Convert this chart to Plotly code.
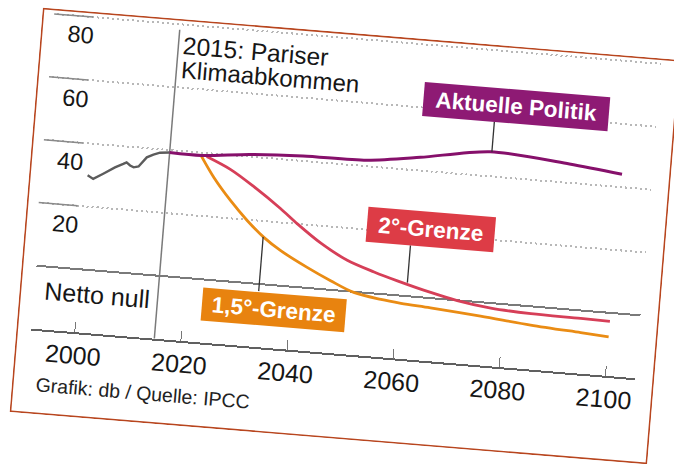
import plotly.graph_objects as go

# ---------------- data ----------------
hist_years = [2000, 2001.1, 2002.9, 2005, 2006.5, 2007.1, 2007.8, 2008.5, 2009.4, 2010, 2010.8, 2012, 2013.2, 2015]
hist_vals = [29.9, 28.9, 30.8, 33.1, 34.4, 35.0, 34.1, 33.6, 34.0, 35.4, 37.1, 38.1, 38.9, 39.2]

policy_years = [2015, 2021, 2030, 2040, 2052, 2062, 2075, 2090, 2100]
policy_vals = [39.2, 39.1, 40.7, 41.6, 41.9, 44.2, 47.8, 46.0, 44.1]

two_years = [2022, 2026.7, 2031.3, 2036.6, 2040, 2044.7, 2049.9, 2055.1, 2059.6, 2066, 2071.1, 2077.5, 2085.1, 2094.5, 2100]
two_vals = [38.9, 35.4, 30.6, 24.4, 20.0, 14.5, 9.8, 6.8, 4.6, 1.8, -0.1, -1.6, -2.3, -2.5, -2.7]

one5_years = [2021, 2023.7, 2027.2, 2030.6, 2034, 2037.3, 2042.5, 2047.1, 2051.6, 2056.8, 2060.6, 2066.2, 2075.7, 2085.2, 2094.7, 2100]
one5_vals = [38.9, 32.4, 25.5, 19.7, 14.8, 11.1, 6.5, 2.9, -0.2, -1.7, -2.4, -3.1, -4.4, -5.9, -7.0, -7.6]

x_ticks = [2000, 2020, 2040, 2060, 2080, 2100]
y_ticks = [80, 60, 40, 20]
y_tick_text = ["80", "60", "40", "20"]

paris_year = 2015
paris_text = ["2015: Pariser", "Klimaabkommen"]
zero_label = "Netto null"
source_text = "Grafik: db / Quelle: IPCC"

# ---------------- styling ----------------
FONT = "Liberation Sans, Arial, Helvetica, sans-serif"
PURPLE = "#86106b"
PURPLE_BOX = "#8e1a74"
RED = "#d63f58"
RED_BOX = "#dd3c46"
ORANGE = "#ea8c14"
ORANGE_BOX = "#e8830f"
HIST = "#5c5c5c"
TXT = "#161616"

W, H = 640, 406
ML, MR, MT, MB = 15, 19, 0, 85
PW, PH = W - ML - MR, H - MT - MB
x_range = [1991.83, 2105.63]
y_range = [-20, 81.74]


def pu(u):
    return (u - ML) / PW


def pv(v):
    return (PH - v) / PH


def yv(v):
    # value at a given pixel row inside the plot area
    return y_range[1] - v * (y_range[1] - y_range[0]) / PH


fig = go.Figure()

fig.add_trace(go.Scatter(x=hist_years, y=hist_vals, mode="lines",
                         line=dict(color=HIST, width=2.4), hoverinfo="skip"))
fig.add_trace(go.Scatter(x=one5_years, y=one5_vals, mode="lines",
                         line=dict(color=ORANGE, width=2.8, shape="spline", smoothing=0.9),
                         hoverinfo="skip"))
fig.add_trace(go.Scatter(x=two_years, y=two_vals, mode="lines",
                         line=dict(color=RED, width=2.8, shape="spline", smoothing=0.9),
                         hoverinfo="skip"))
fig.add_trace(go.Scatter(x=policy_years, y=policy_vals, mode="lines",
                         line=dict(color=PURPLE, width=3, shape="spline", smoothing=0.8),
                         hoverinfo="skip"))

shapes = []
# short solid pieces at the left of each grid line
for t in y_ticks:
    shapes.append(dict(type="line", xref="paper", yref="y", x0=pu(12), x1=pu(51), y0=t, y1=t,
                       line=dict(color="#8a8a8a", width=1.5), layer="above"))
# 2015 marker line
shapes.append(dict(type="line", xref="x", yref="y", x0=paris_year, x1=paris_year,
                   y0=y_range[0], y1=yv(11), line=dict(color="#7a7a7a", width=1.5), layer="below"))
# label connectors
shapes.append(dict(type="line", xref="x", yref="y", x0=2075.3, x1=2075.3, y0=47.8, y1=yv(77),
                   line=dict(color="#333333", width=1.3)))
shapes.append(dict(type="line", xref="x", yref="y", x0=2061.5, x1=2061.5, y0=4.3, y1=yv(207),
                   line=dict(color="#333333", width=1.3)))
shapes.append(dict(type="line", xref="x", yref="y", x0=2033.8, x1=2033.8, y0=15.0, y1=yv(265),
                   line=dict(color="#333333", width=1.3)))
# frame
shapes.append(dict(type="rect", xref="paper", yref="paper", x0=pu(1), x1=pu(639), y0=pv(405), y1=pv(1),
                   line=dict(color="#b8461f", width=1.6), fillcolor="rgba(0,0,0,0)"))

annotations = []
for t, s in zip(y_ticks, y_tick_text):
    annotations.append(dict(text=s, xref="paper", yref="y", x=pu(25), y=t, yshift=-19,
                            xanchor="left", yanchor="middle", showarrow=False,
                            font=dict(family=FONT, size=23.5, color=TXT)))
annotations.append(dict(text=zero_label, xref="paper", yref="y", x=pu(23), y=0, yshift=-24,
                        xanchor="left", yanchor="middle", showarrow=False,
                        font=dict(family=FONT, size=25, color=TXT)))
annotations.append(dict(text=paris_text[0], xref="x", yref="y", x=paris_year, xshift=3, y=yv(26),
                        xanchor="left", yanchor="middle", showarrow=False,
                        font=dict(family=FONT, size=24.5, color=TXT)))
annotations.append(dict(text=paris_text[1], xref="x", yref="y", x=paris_year, xshift=3, y=yv(50),
                        xanchor="left", yanchor="middle", showarrow=False,
                        font=dict(family=FONT, size=24, color=TXT)))
annotations.append(dict(text=source_text, xref="paper", yref="paper", x=pu(22), y=pv(376),
                        xanchor="left", yanchor="middle", showarrow=False,
                        font=dict(family=FONT, size=19.5, color="#222222")))
# coloured series labels
for txt, xc, vc, w, h, col in [
    ("Aktuelle Politik", 2079.15, 59.7, 186, 34, PURPLE_BOX),
    ("2°-Grenze", 2065.1, 189.5, 128, 35, RED_BOX),
    ("1,5°-Grenze", 2036.9, 282, 144, 33, ORANGE_BOX),
]:
    annotations.append(dict(text="<b>" + txt + "</b>", xref="x", yref="y", x=xc, y=yv(vc),
                            xanchor="center", yanchor="middle", showarrow=False,
                            width=w, height=h, bgcolor=col, borderpad=0, borderwidth=0,
                            align="center", valign="middle",
                            font=dict(family=FONT, size=22.5, color="white")))

fig.update_layout(
    width=W, height=H,
    margin=dict(l=ML, r=MR, t=MT, b=MB, autoexpand=False),
    paper_bgcolor="white", plot_bgcolor="white",
    showlegend=False,
    font=dict(family=FONT, color=TXT),
    shapes=shapes, annotations=annotations,
    xaxis=dict(range=x_range, tickvals=x_ticks, ticktext=[str(v) for v in x_ticks],
               ticks="inside", ticklen=10, tickwidth=1.2, tickcolor="#777777",
               showline=True, linecolor="#606060", linewidth=1.5,
               showgrid=False, zeroline=False, fixedrange=True,
               tickfont=dict(family=FONT, size=25, color=TXT)),
    yaxis=dict(range=y_range, tickvals=y_ticks, showticklabels=False, ticks="",
               showgrid=True, gridcolor="#b8b8b8", gridwidth=1.5, griddash="2px,3px",
               zeroline=True, zerolinecolor="#7a7a7a", zerolinewidth=1.5,
               showline=False, fixedrange=True),
)

post = """
var gd = document.getElementById('{plot_id}');
document.documentElement.style.overflow = 'hidden';
document.body.style.overflow = 'hidden';
document.body.style.margin = '0';
document.body.style.background = 'white';
gd.style.position = 'absolute';
gd.style.left = '25px';
gd.style.top = '33px';
gd.style.transformOrigin = '50% 50%';
gd.style.transform = 'rotate(4.7deg)';
"""

fig.write_html("out.html", config={"displayModeBar": False, "responsive": False}, post_script=post)
